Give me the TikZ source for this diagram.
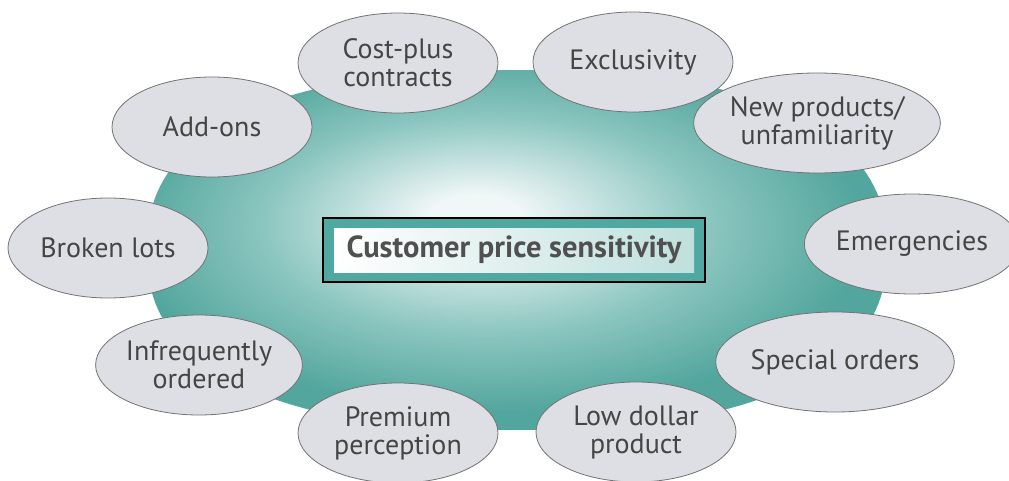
\documentclass[tikz,border=0pt]{standalone}
\usepackage{fontspec}
\setmainfont{PT Sans}
\usetikzlibrary{shapes.geometric}
\definecolor{tealout}{HTML}{52A69D}
\definecolor{tealmid}{HTML}{8CC6C0}
\definecolor{tealin}{HTML}{F0F7F7}
\definecolor{bandteal}{HTML}{4FA9A1}
\definecolor{boxright}{HTML}{BFE0DC}
\definecolor{ovalfill}{HTML}{DEDFE5}
\definecolor{ovaldraw}{HTML}{737373}
\definecolor{txt}{HTML}{454545}
\definecolor{ctext}{HTML}{505050}
\pgfdeclareradialshading{tealshade}{\pgfpoint{-3bp}{5bp}}{color(0bp)=(tealin); color(3bp)=(tealin); color(15bp)=(tealmid); color(25bp)=(tealout); color(50bp)=(tealout)}
\begin{document}
\begin{tikzpicture}[x=1pt,y=-1pt,
  oval/.style={ellipse, draw=ovaldraw, line width=0.8pt, fill=ovalfill,
    minimum width=200pt, minimum height=100pt, inner sep=0pt, align=center,
    text=txt, font=\fontsize{28}{28}\selectfont},
  frame/.style={draw=black, line width=1.2pt, fill=bandteal, minimum width=382pt, minimum height=64pt, inner sep=0pt},
  core/.style={left color=white, right color=boxright, minimum width=360pt, minimum height=44pt,
    inner sep=0pt, text=ctext, font=\bfseries\fontsize{30.5}{30.5}\selectfont}
]
\useasboundingbox (0,0) rectangle (1009,481);
\fill[white] (0,0) rectangle (1009,481);
\shade[shading=tealshade] plot[domain=1:361, samples=181, variable=\t]
  ({517+370*cos(\t)*pow(abs(cos(\t)),-0.1667)}, {250+180*sin(\t)*pow(abs(sin(\t)),-0.1667)}) -- cycle;
\node[frame] (fr) at (514,250) {};
\node[core] (core) at (fr.center) {Customer price sensitivity};
\node[oval] (cost) at (398,63) {Cost-plus\\contracts};
\node[oval] (addons) at (212,127) {Add-ons};
\node[oval] (excl) at (633,62) {Exclusivity};
\node[oval, minimum width=208pt] (newp) at (817,123) {New products/\\unfamiliarity};
\node[oval] (emerg) at (912,244) {Emergencies};
\node[oval] (broken) at (108,248) {Broken lots};
\node[oval] (infreq) at (199,365) {Infrequently\\ordered};
\node[oval] (prem) at (398,433) {Premium\\perception};
\node[oval] (lowd) at (636,432) {Low dollar\\product};
\node[oval] (spec) at (835,362) {Special orders};
\end{tikzpicture}
\end{document}
